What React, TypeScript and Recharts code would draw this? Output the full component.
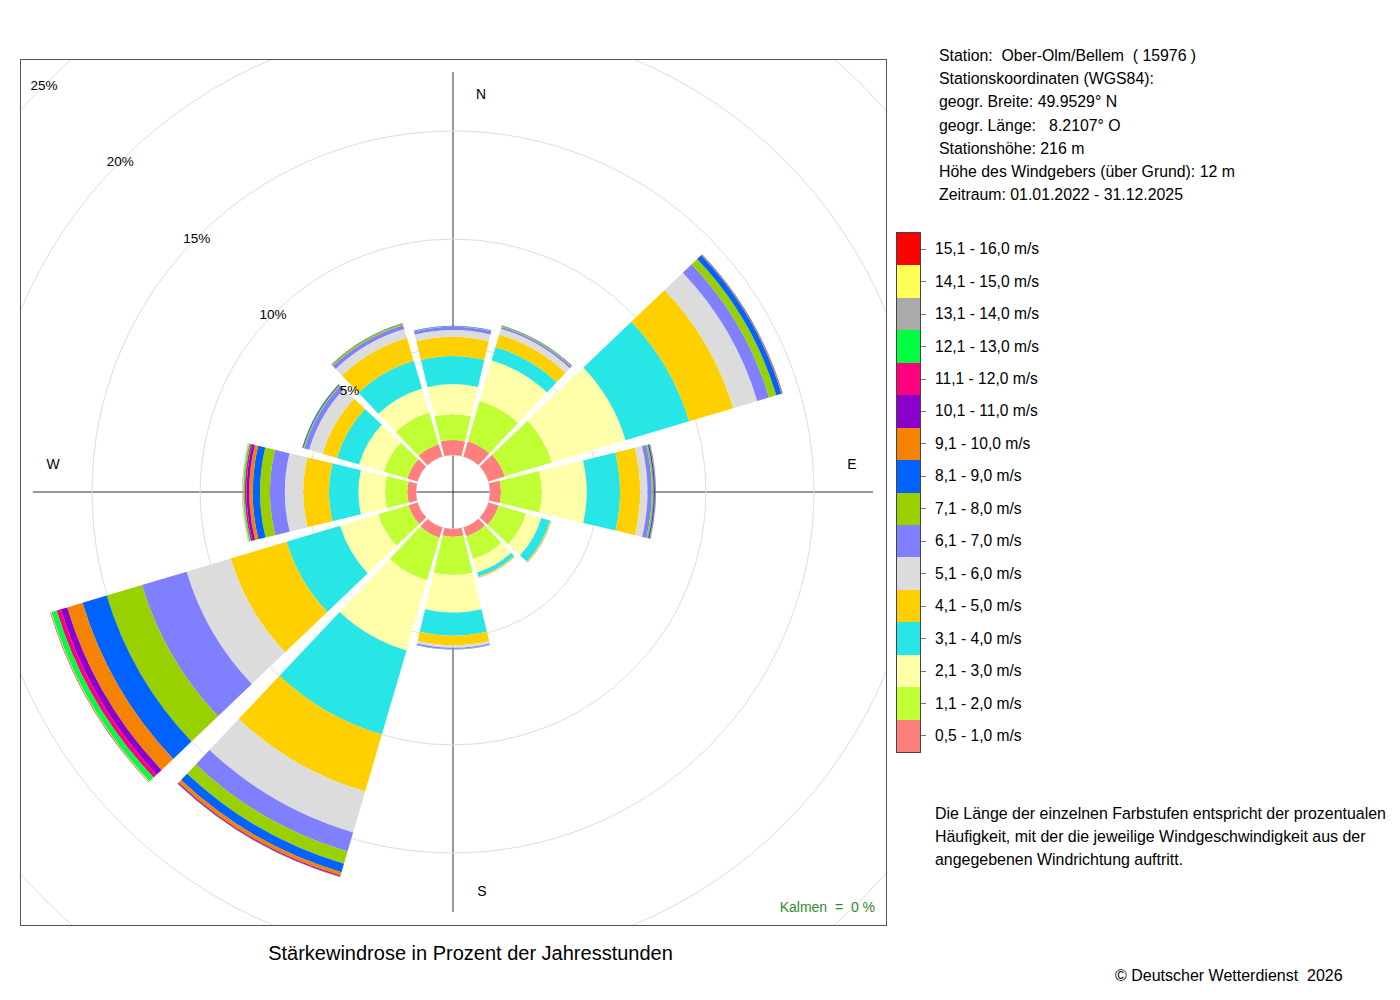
import {
  RadialBarChart,
  RadialBar,
  PolarAngleAxis,
  PolarRadiusAxis,
  PolarGrid,
} from "recharts";

// Wind directions, clockwise from north (30° sectors)
const DIRECTIONS = ["N", "NNO", "ONO", "O", "OSO", "SSO", "S", "SSW", "WSW", "W", "WNW", "NNW"];

const SPEED_LABELS = [
  "0,5 - 1,0 m/s",
  "1,1 - 2,0 m/s",
  "2,1 - 3,0 m/s",
  "3,1 - 4,0 m/s",
  "4,1 - 5,0 m/s",
  "5,1 - 6,0 m/s",
  "6,1 - 7,0 m/s",
  "7,1 - 8,0 m/s",
  "8,1 - 9,0 m/s",
  "9,1 - 10,0 m/s",
  "10,1 - 11,0 m/s",
  "11,1 - 12,0 m/s",
  "12,1 - 13,0 m/s",
  "13,1 - 14,0 m/s",
  "14,1 - 15,0 m/s",
  "15,1 - 16,0 m/s",
];

// share of hours in % per direction (N ... NNW) for each speed class
const v05_10 = [0.69, 0.74, 0.79, 0.51, 0.49, 0.43, 0.36, 0.49, 0.44, 0.4, 0.49, 0.6];
const v11_20 = [1.2, 1.94, 2.28, 1.89, 1.32, 1.1, 1.77, 2.06, 1.46, 1.03, 1.13, 1.53];
const v21_30 = [1.39, 1.95, 3.56, 2.08, 0.74, 0.65, 1.74, 3.38, 1.84, 1.24, 1.2, 1.16];
const v31_40 = [1.3, 0.65, 3.07, 1.54, 0.42, 0.19, 1.07, 4.06, 2.59, 1.36, 1.07, 1.34];
const v41_50 = [0.89, 0.6, 2.13, 0.93, 0.05, 0.05, 0.44, 2.75, 2.7, 1.19, 0.69, 1.11];
const v51_60 = [0.31, 0.28, 1.16, 0.34, 0.01, 0.01, 0.12, 1.97, 2.13, 0.85, 0.65, 0.42];
const v61_70 = [0.15, 0.09, 0.57, 0.2, 0.01, 0.01, 0.05, 0.92, 2.16, 0.69, 0.23, 0.19];
const v71_80 = [0.03, 0.05, 0.35, 0.08, 0, 0, 0.02, 0.59, 1.7, 0.46, 0.05, 0.07];
const v81_90 = [0.02, 0.02, 0.25, 0.07, 0, 0, 0.01, 0.41, 1.17, 0.34, 0.05, 0.02];
const v91_100 = [0, 0.01, 0.03, 0.02, 0, 0, 0, 0.16, 0.74, 0.16, 0.01, 0.01];
const v101_110 = [0, 0, 0.02, 0.01, 0, 0, 0, 0.05, 0.31, 0.12, 0, 0];
const v111_120 = [0, 0, 0.01, 0.01, 0, 0, 0, 0.02, 0.2, 0.08, 0, 0];
const v121_130 = [0, 0, 0.01, 0, 0, 0, 0, 0.01, 0.25, 0.07, 0, 0];
const v131_140 = [0, 0, 0, 0, 0, 0, 0, 0, 0.02, 0.02, 0, 0];
const v141_150 = [0, 0, 0, 0, 0, 0, 0, 0, 0.02, 0.02, 0, 0];
const v151_160 = [0, 0, 0, 0, 0, 0, 0, 0, 0.02, 0.01, 0, 0];

const SPEED_VALUES = [
  v05_10, v11_20, v21_30, v31_40, v41_50, v51_60, v61_70, v71_80,
  v81_90, v91_100, v101_110, v111_120, v121_130, v131_140, v141_150, v151_160,
];

const COLORS = [
  "#ff7f7f",
  "#bfff33",
  "#ffffaa",
  "#28e6e6",
  "#ffd000",
  "#dcdcdc",
  "#8080ff",
  "#99d000",
  "#0062ff",
  "#f58200",
  "#8c00cc",
  "#ff007f",
  "#00ff40",
  "#aaaaaa",
  "#ffff55",
  "#ff0000",
];

const PCT_TICKS = [0, 5, 10, 15, 20, 25];

const STATION_LINES = [
  "Station:  Ober-Olm/Bellem  ( 15976 )",
  "Stationskoordinaten (WGS84):",
  "geogr. Breite: 49.9529° N",
  "geogr. Länge:   8.2107° O",
  "Stationshöhe: 216 m",
  "Höhe des Windgebers (über Grund): 12 m",
  "Zeitraum: 01.01.2022 - 31.12.2025",
];

const NOTE_LINES = [
  "Die Länge der einzelnen Farbstufen entspricht der prozentualen",
  "Häufigkeit, mit der die jeweilige Windgeschwindigkeit aus der",
  "angegebenen Windrichtung auftritt.",
];

const FONT = '"Liberation Sans", Arial, Helvetica, sans-serif';
const SIZE = 867;
const C = 433;
const LEG_TOP = 232;
const LEG_H = 32.45;

function PctTick(props: any) {
  const { x, y, payload } = props;
  if (!payload || payload.value === 0) return <g />;
  return (
    <text x={x - 1} y={y + 6} textAnchor="middle" fontSize={13.5} fill="#000" fontFamily={FONT}>
      {payload.value}%
    </text>
  );
}

export default function App() {
  const data = DIRECTIONS.map((dir, i) => {
    const row: Record<string, string | number> = { dir };
    SPEED_VALUES.forEach((vals, k) => {
      row[`s${k}`] = vals[i];
    });
    return row;
  });

  const text = { position: "absolute" as const, whiteSpace: "pre" as const, fontSize: 16, color: "#000" };

  return (
    <div
      style={{
        position: "absolute",
        left: 0,
        top: 0,
        width: 1400,
        height: 1000,
        background: "#fff",
        fontFamily: FONT,
      }}
    >
      {/* rose */}
      <div style={{ position: "absolute", left: 20, top: 59, width: SIZE, height: SIZE, overflow: "hidden" }}>
        <svg width={SIZE} height={SIZE} style={{ position: "absolute", left: 0, top: 0 }}>
          <line x1={C} y1={C - 420} x2={C} y2={C + 420} stroke="#808080" strokeWidth={1.6} />
          <line x1={C - 420} y1={C} x2={C + 420} y2={C} stroke="#333" strokeWidth={1} />
          <g fontSize={14} fill="#000" fontFamily={FONT} textAnchor="middle">
            <text x={C + 28} y={C - 393}>N</text>
            <text x={C + 399} y={C - 23}>E</text>
            <text x={C + 29} y={C + 404}>S</text>
            <text x={C - 400} y={C - 23}>W</text>
          </g>
        </svg>
        <div style={{ position: "absolute", left: 0, top: 0 }}>
          <RadialBarChart
            width={SIZE}
            height={SIZE}
            data={data}
            layout="centric"
            cx={C}
            cy={C}
            innerRadius={37}
            outerRadius={577}
            startAngle={75}
            endAngle={-285}
            barCategoryGap="5.5%"
            margin={{ top: 0, right: 0, bottom: 0, left: 0 }}
          >
            <PolarGrid gridType="circle" radialLines={false} stroke="#dddddd" />
            <PolarAngleAxis type="category" dataKey="dir" tick={false} axisLine={false} tickLine={false} />
            <PolarRadiusAxis
              type="number"
              domain={[0, 25]}
              ticks={PCT_TICKS}
              angle={135}
              axisLine={false}
              tickLine={false}
              tick={PctTick}
            />
            {SPEED_VALUES.map((_, k) => (
              <RadialBar
                key={k}
                dataKey={`s${k}`}
                stackId="wind"
                fill={COLORS[k]}
                isAnimationActive={false}
              />
            ))}
          </RadialBarChart>
        </div>
        <div
          style={{
            ...text,
            fontSize: 14,
            color: "#2e8b2e",
            right: 12,
            top: 840,
          }}
        >
          {"Kalmen  =  0 %"}
        </div>
      </div>
      <div
        style={{
          position: "absolute",
          left: 20,
          top: 59,
          width: SIZE,
          height: SIZE,
          boxSizing: "border-box",
          border: "1px solid #555",
          pointerEvents: "none",
        }}
      />

      {/* title */}
      <div style={{ ...text, fontSize: 20, left: 37, width: SIZE, textAlign: "center", top: 942 }}>
        Stärkewindrose in Prozent der Jahresstunden
      </div>

      {/* station info */}
      {STATION_LINES.map((line, i) => (
        <div key={line} style={{ ...text, fontSize: 15.85, left: 939, top: 46 + i * 23.2, lineHeight: "20px" }}>
          {line}
        </div>
      ))}

      {/* legend */}
      <div
        style={{
          position: "absolute",
          left: 896,
          top: LEG_TOP,
          width: 25,
          height: LEG_H * 16 + 2,
          boxSizing: "border-box",
          border: "1px solid #444",
        }}
      >
        {COLORS.slice()
          .reverse()
          .map((c) => (
            <div key={c} style={{ height: LEG_H, background: c }} />
          ))}
      </div>
      {SPEED_LABELS.map((label, k) => {
        const cy = LEG_TOP + 1 + LEG_H * (15 - k + 0.5);
        return (
          <div key={label}>
            <div style={{ position: "absolute", left: 921, top: cy - 0.5, width: 5, height: 1, background: "#777" }} />
            <div style={{ ...text, fontSize: 15.6, left: 935, top: cy - 10, lineHeight: "20px" }}>{label}</div>
          </div>
        );
      })}

      {/* note */}
      {NOTE_LINES.map((line, i) => (
        <div key={line} style={{ ...text, fontSize: 15.95, left: 935, top: 804 + i * 23, lineHeight: "20px" }}>
          {line}
        </div>
      ))}

      <div style={{ ...text, left: 1115, top: 966, lineHeight: "20px" }}>{"© Deutscher Wetterdienst  2026"}</div>
    </div>
  );
}
